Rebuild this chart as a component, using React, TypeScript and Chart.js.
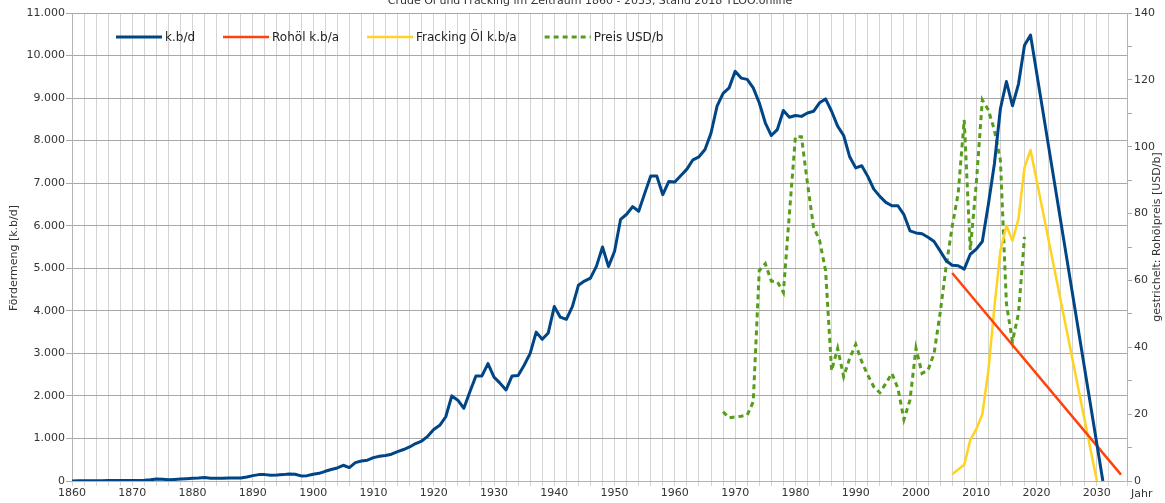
import React, { useEffect, useRef } from "react";
import { Chart, registerables } from "chart.js";

Chart.register(...registerables);

// ---------- data ----------
const chartTitle = "Crude Öl und Fracking im Zeitraum 1860 - 2035, Stand 2018 TLOO.online";
const leftAxisTitle = "Fördermeng [k.b/d]";
const rightAxisTitle = "gestrichelt: Rohölpreis [USD/b]";
const xAxisTitle = "Jahr";

const seriesLabels = ["k.b/d", "Rohöl k.b/a", "Fracking Öl k.b/a", "Preis USD/b"];

// total production (k.b/d), yearly from 1860 to 2019
const productionStartYear = 1860;
const productionKbd = [
  2, 6, 8, 7, 6, 7, 10, 9, 10, 12, // 1860-1869
  14, 14, 17, 27, 45, 40, 32, 37, 45, 55, // 1870-1879
  65, 70, 80, 65, 65, 62, 68, 70, 72, 95, // 1880-1889
  126, 150, 150, 134, 140, 150, 165, 160, 120, 126, // 1890-1899
  160, 180, 228, 270, 307, 370, 315, 433, 470, 490, // 1900-1909
  550, 580, 600, 630, 690, 740, 800, 880, 940, 1050, // 1910-1919
  1210, 1310, 1510, 2000, 1900, 1710, 2100, 2470, 2470, 2760, // 1920-1929
  2440, 2300, 2140, 2470, 2480, 2720, 3000, 3500, 3330, 3480, // 1930-1939
  4100, 3850, 3800, 4100, 4600, 4700, 4770, 5050, 5500, 5040, // 1940-1949
  5400, 6150, 6270, 6450, 6340, 6760, 7170, 7170, 6730, 7040, // 1950-1959
  7030, 7180, 7330, 7550, 7620, 7790, 8180, 8810, 9110, 9240, // 1960-1969
  9630, 9470, 9440, 9240, 8890, 8420, 8120, 8260, 8710, 8550, // 1970-1979
  8590, 8570, 8650, 8690, 8890, 8980, 8690, 8340, 8120, 7620, // 1980-1989
  7360, 7410, 7160, 6860, 6690, 6550, 6470, 6470, 6260, 5880, // 1990-1999
  5830, 5810, 5730, 5630, 5410, 5180, 5070, 5060, 4980, 5330, // 2000-2009
  5450, 5630, 6500, 7450, 8750, 9390, 8820, 9330, 10240, 10480, // 2010-2019
];
const productionForecastYears = [2031];
const productionForecastKbd = [0];

// conventional crude trend line
const crudeYears = [2006, 2034];
const crudeKba = [4890, 150];

// fracking oil
const frackingYears = [2006, 2007, 2008, 2009, 2010, 2011, 2012, 2013, 2014, 2015, 2016, 2017, 2018, 2019, 2030];
const frackingKba = [160, 270, 380, 960, 1220, 1570, 2590, 4080, 5410, 6000, 5650, 6160, 7370, 7780, 0];

// crude price USD/b, yearly from 1968 to 2018
const priceStartYear = 1968;
const priceUsd = [
  20.7, 18.9, 19.2, 19.4, 19.7, 23.7, 63, 65, 59.8, 59.6, 56.4, 80, // 1968-1979
  103, 103, 89, 76, 72, 63, 33, 39.7, 31.2, 36.7, // 1980-1989
  40.9, 35.7, 31.7, 28.2, 26.4, 29.2, 32.2, 27.7, 18.4, 24.2, // 1990-1999
  39.7, 32.2, 33.2, 38.2, 50.2, 64.2, 76.1, 86.1, 108, 69.1, // 2000-2009
  89, 114, 111, 105, 96, 53, 41.7, 50.2, 73, // 2010-2018
];

const xMin = 1860;
const xMax = 2035;
const leftMax = 11000;
const rightMax = 140;

// ---------- helpers ----------
const FONT = '"DejaVu Sans", "Liberation Sans", sans-serif';

function fmtDe(v: number): string {
  const n = Math.round(v);
  if (n < 1000) return String(n);
  const th = Math.floor(n / 1000);
  const rest = String(n % 1000).padStart(3, "0");
  return th + "." + rest;
}

function pts(years: number[], values: number[]) {
  return values.map((v, i) => ({ x: years[i], y: v }));
}

const decorPlugin = {
  id: "decor",
  afterDraw(chart: any) {
    const ctx = chart.ctx as CanvasRenderingContext2D;
    const area = chart.chartArea;
    ctx.save();
    ctx.fillStyle = "#333333";

    // cut-off title
    ctx.font = `11px ${FONT}`;
    ctx.textAlign = "center";
    ctx.textBaseline = "alphabetic";
    ctx.fillText(chartTitle, 590, 4);

    // left axis title
    ctx.save();
    ctx.translate(14, 258);
    ctx.rotate(-Math.PI / 2);
    ctx.textBaseline = "middle";
    ctx.textAlign = "center";
    ctx.fillText(leftAxisTitle, 0, 0);
    ctx.restore();

    // right axis title
    ctx.save();
    ctx.translate(1157, 237);
    ctx.rotate(-Math.PI / 2);
    ctx.textBaseline = "middle";
    ctx.textAlign = "center";
    ctx.fillText(rightAxisTitle, 0, 0);
    ctx.restore();

    // x axis title
    ctx.textAlign = "left";
    ctx.textBaseline = "middle";
    ctx.fillText(xAxisTitle, area.right + 4, 494);

    // legend
    ctx.font = `12px ${FONT}`;
    let x = 116;
    const y = 37;
    chart.data.datasets.forEach((ds: any) => {
      ctx.save();
      ctx.strokeStyle = ds.borderColor;
      ctx.lineWidth = ds.borderWidth;
      ctx.setLineDash(ds.borderDash || []);
      ctx.beginPath();
      ctx.moveTo(x, y);
      ctx.lineTo(x + 46, y);
      ctx.stroke();
      ctx.restore();
      ctx.fillStyle = "#222222";
      ctx.textAlign = "left";
      ctx.textBaseline = "middle";
      ctx.fillText(ds.label, x + 49, y + 1);
      x += 49 + ctx.measureText(ds.label).width + 28;
    });
    ctx.restore();
  },
};

export default function App() {
  const canvasRef = useRef<HTMLCanvasElement | null>(null);

  useEffect(() => {
    document.body.style.margin = "0";
    const canvas = canvasRef.current;
    if (!canvas) return;

    const productionYears = productionKbd.map((_, i) => productionStartYear + i);
    const priceYears = priceUsd.map((_, i) => priceStartYear + i);

    const chart = new Chart(canvas, {
      type: "line",
      data: {
        datasets: [
          {
            label: seriesLabels[0],
            data: [
              ...pts(productionYears, productionKbd),
              ...pts(productionForecastYears, productionForecastKbd),
            ],
            borderColor: "#004586",
            borderWidth: 3,
            pointRadius: 0,
            tension: 0,
            yAxisID: "y",
            borderJoinStyle: "round",
          },
          {
            label: seriesLabels[1],
            data: pts(crudeYears, crudeKba),
            borderColor: "#ff420e",
            borderWidth: 2.5,
            pointRadius: 0,
            yAxisID: "y",
          },
          {
            label: seriesLabels[2],
            data: pts(frackingYears, frackingKba),
            borderColor: "#ffd320",
            borderWidth: 2.5,
            pointRadius: 0,
            yAxisID: "y",
            borderJoinStyle: "round",
          },
          {
            label: seriesLabels[3],
            data: pts(priceYears, priceUsd),
            borderColor: "#579d1c",
            borderWidth: 3,
            borderDash: [5, 4],
            pointRadius: 0,
            yAxisID: "y1",
          },
        ] as any,
      },
      options: {
        animation: false,
        responsive: false,
        layout: { padding: { top: 13, left: 0, right: 0, bottom: 0 } },
        plugins: {
          legend: { display: false },
          tooltip: { enabled: false },
          title: { display: false },
        },
        scales: {
          x: {
            type: "linear",
            min: xMin,
            max: xMax,
            afterFit: (s: any) => {
              s.height = 22;
            },
            ticks: {
              stepSize: 2,
              autoSkip: false,
              maxRotation: 0,
              minRotation: 0,
              padding: 1,
              color: "#333333",
              font: { family: FONT, size: 11 },
              callback: (v: any) => {
                const n = Number(v);
                return n % 10 === 0 && n <= 2030 ? String(n) : "";
              },
            },
            grid: { color: "#d4d4d4", lineWidth: 1, tickLength: 5 },
            border: { color: "#b3b3b3" },
          },
          y: {
            position: "left",
            min: 0,
            max: leftMax,
            afterFit: (s: any) => {
              s.width = 72;
            },
            ticks: {
              stepSize: 1000,
              padding: 1,
              color: "#333333",
              font: { family: FONT, size: 11 },
              callback: (v: any) => fmtDe(Number(v)),
            },
            grid: { color: "#a8a8a8", lineWidth: 1, tickLength: 6 },
            border: { color: "#b3b3b3" },
          },
          y1: {
            position: "right",
            min: 0,
            max: rightMax,
            afterFit: (s: any) => {
              s.width = 38;
            },
            ticks: {
              stepSize: 10,
              autoSkip: false,
              padding: 2,
              color: "#333333",
              font: { family: FONT, size: 11 },
              callback: (v: any) => (Number(v) % 20 === 0 ? String(v) : ""),
            },
            grid: { drawOnChartArea: false, color: "#a8a8a8", tickLength: 5 },
            border: { color: "#b3b3b3" },
          },
        },
      } as any,
      plugins: [decorPlugin],
    });

    return () => {
      chart.destroy();
    };
  }, []);

  return (
    <div style={{ position: "fixed", left: 0, top: 0, width: 1165, height: 503, background: "#ffffff" }}>
      <canvas ref={canvasRef} width={1165} height={503} style={{ display: "block" }} />
    </div>
  );
}
